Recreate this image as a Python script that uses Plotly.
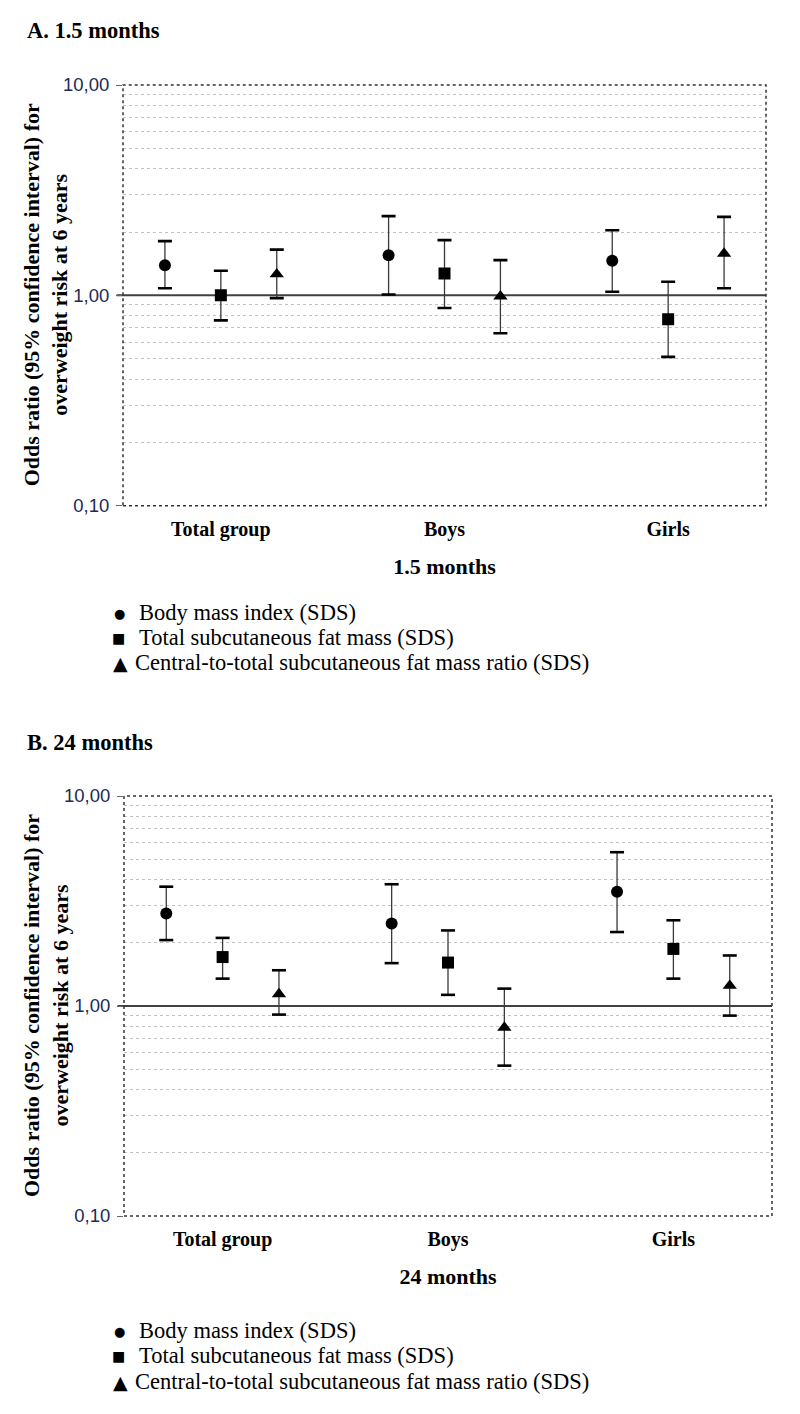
import plotly.graph_objects as go

# ---------------- data ----------------
categories = ["Total group", "Boys", "Girls"]
series_names = ["Body mass index (SDS)",
                "Total subcutaneous fat mass (SDS)",
                "Central-to-total subcutaneous fat mass ratio (SDS)"]
series_symbols = ["circle", "square", "triangle-up"]
series_glyphs = ["●", "■", "▲"]

# A. 1.5 months : odds ratio, lower CI, upper CI
bmi_15 = [1.39, 1.55, 1.46]
bmi_15_lo = [1.08, 1.01, 1.04]
bmi_15_hi = [1.81, 2.38, 2.04]
fat_15 = [1.00, 1.27, 0.77]
fat_15_lo = [0.76, 0.87, 0.51]
fat_15_hi = [1.31, 1.83, 1.16]
ratio_15 = [1.26, 0.99, 1.58]
ratio_15_lo = [0.97, 0.66, 1.08]
ratio_15_hi = [1.65, 1.47, 2.36]

# B. 24 months
bmi_24 = [2.76, 2.47, 3.50]
bmi_24_lo = [2.06, 1.60, 2.25]
bmi_24_hi = [3.70, 3.80, 5.40]
fat_24 = [1.71, 1.61, 1.87]
fat_24_lo = [1.35, 1.13, 1.35]
fat_24_hi = [2.11, 2.29, 2.56]
ratio_24 = [1.14, 0.79, 1.25]
ratio_24_lo = [0.91, 0.52, 0.90]
ratio_24_hi = [1.48, 1.21, 1.74]

y_tickvals = [0.1, 1, 10]
y_ticktext = ["0,10", "1,00", "10,00"]
minor_vals = [0.2, 0.3, 0.4, 0.5, 0.6, 0.7, 0.8, 0.9, 2, 3, 4, 5, 6, 7, 8, 9]
y_title = "Odds ratio (95% confidence interval) for<br>overweight risk at 6 years"

panels = [
    dict(title="A. 1.5 months", xtitle="1.5 months",
         data=[(bmi_15, bmi_15_lo, bmi_15_hi),
               (fat_15, fat_15_lo, fat_15_hi),
               (ratio_15, ratio_15_lo, ratio_15_hi)]),
    dict(title="B. 24 months", xtitle="24 months",
         data=[(bmi_24, bmi_24_lo, bmi_24_hi),
               (fat_24, fat_24_lo, fat_24_hi),
               (ratio_24, ratio_24_lo, ratio_24_hi)]),
]

# ---------------- layout helpers ----------------
# the page body has an 8px margin: figure is drawn starting at (8, 8)
OFF = 8
W, H = 800, 1414
def px_x(p):
    return (p - OFF) / W
def px_y(p):
    return 1 - (p - OFF) / H

SERIF = "Liberation Serif, Times New Roman, serif"
SANS = "Liberation Sans, Arial, sans-serif"

# pixel geometry of each panel: (left, right, top, bottom)
geom = [(123, 766, 85, 505.7), (124, 772, 796, 1216)]
title_y = [31, 742]
legend_y = [[612, 637, 662], [1330, 1355, 1381]]
glyph_x = [119, 118, 120]
text_x = [137, 137, 133]

offsets = [-0.25, 0.0, 0.25]
marker_sizes = [12, 12, 12.5]
glyph_sizes = [13, 14, 19]

fig = go.Figure()
annotations = []
shapes = []

for pi, panel in enumerate(panels):
    xa = "x" if pi == 0 else "x2"
    ya = "y" if pi == 0 else "y2"
    for si, (orv, lo, hi) in enumerate(panel["data"]):
        xs = [ci + offsets[si] for ci in range(len(categories))]
        fig.add_trace(go.Scatter(
            x=xs, y=orv, mode="markers", name=series_names[si],
            xaxis=xa, yaxis=ya, showlegend=False,
            marker=dict(symbol=series_symbols[si], size=marker_sizes[si], color="black"),
            error_y=dict(type="data", symmetric=False,
                         array=[h - o for h, o in zip(hi, orv)],
                         arrayminus=[o - l for o, l in zip(orv, lo)],
                         width=0, thickness=1.3, color="#3a3a3a"),
        ))
        # thick caps at the CI bounds
        fig.add_trace(go.Scatter(
            x=xs + xs, y=list(hi) + list(lo), mode="markers",
            xaxis=xa, yaxis=ya, showlegend=False, hoverinfo="skip",
            marker=dict(symbol="line-ew", size=10, color="black",
                        line=dict(width=2.6, color="black")),
        ))

    l, r, t, b = geom[pi]
    xkey = "xaxis" if pi == 0 else "xaxis2"
    ykey = "yaxis" if pi == 0 else "yaxis2"
    fig.layout[xkey] = dict(
        domain=[px_x(l), px_x(r)], anchor=ya, range=[-0.4375, 2.4375],
        tickvals=list(range(len(categories))), ticktext=categories,
        ticks="", showgrid=False, zeroline=False, showline=False,
        automargin=False, ticklabelstandoff=9,
        tickfont=dict(family=SERIF, size=20, color="black", weight="bold"),
        title=dict(text=panel["xtitle"], standoff=18,
                   font=dict(family=SERIF, size=22, color="black", weight="bold")),
    )
    fig.layout[ykey] = dict(
        domain=[px_y(b), px_y(t)], anchor=xa, type="log", range=[-1, 1],
        tickvals=y_tickvals, ticktext=y_ticktext,
        ticks="outside", ticklen=6, tickcolor="#666666", tickwidth=1,
        automargin=False, ticklabelstandoff=3,
        tickfont=dict(family=SANS, size=18.5, color="#1c2a55"),
        showgrid=False, zeroline=False, showline=False,
        minor=dict(tickmode="array", tickvals=minor_vals, showgrid=True,
                   gridcolor="#c2c2c2", griddash="dot", gridwidth=1, ticks=""),
    )
    # y-axis title (two lines, rotated)
    annotations.append(dict(text=y_title, xref="paper", yref="paper",
                            x=px_x(46), y=px_y((t + b) / 2), xanchor="center", yanchor="middle",
                            textangle=-90, showarrow=False,
                            font=dict(family=SERIF, size=22, color="black", weight="bold")))
    # reference line at OR = 1
    shapes.append(dict(type="line", xref=f"{xa} domain", yref=ya,
                       x0=-0.01, x1=1, y0=1, y1=1,
                       line=dict(color="#404040", width=2), layer="below"))
    # dotted plot border
    shapes.append(dict(type="rect", xref=f"{xa} domain", yref=f"{ya} domain",
                       x0=0, x1=1, y0=0, y1=1,
                       line=dict(color="#333333", width=1.5, dash="dot"), layer="above"))

    annotations.append(dict(text=panel["title"], xref="paper", yref="paper",
                            x=px_x(25), y=px_y(title_y[pi]), xanchor="left", yanchor="middle",
                            showarrow=False,
                            font=dict(family=SERIF, size=22.5, color="black", weight="bold")))
    for si in range(len(series_names)):
        annotations.append(dict(
            text=series_glyphs[si], xref="paper", yref="paper",
            x=px_x(glyph_x[si]), y=px_y(legend_y[pi][si] + 1),
            xanchor="center", yanchor="middle", showarrow=False,
            font=dict(family="DejaVu Sans", size=glyph_sizes[si], color="black")))
        annotations.append(dict(
            text=series_names[si], xref="paper", yref="paper",
            x=px_x(text_x[si]), y=px_y(legend_y[pi][si]),
            xanchor="left", yanchor="middle", showarrow=False,
            font=dict(family=SERIF, size=22.5, color="black")))

fig.update_layout(
    width=W, height=H,
    margin=dict(l=0, r=0, t=0, b=0, pad=0, autoexpand=False),
    paper_bgcolor="white", plot_bgcolor="white",
    annotations=annotations, shapes=shapes, showlegend=False,
)

fig.write_html("out.html")
